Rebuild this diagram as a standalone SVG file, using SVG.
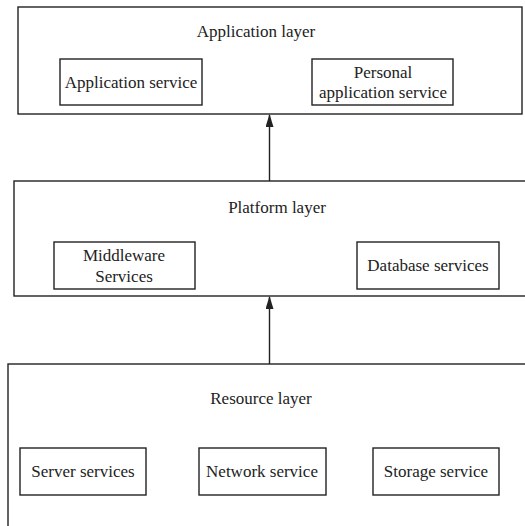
<svg xmlns="http://www.w3.org/2000/svg" width="525" height="526" viewBox="0 0 525 526">
<defs>
<style>
.box{fill:#fff;stroke:#222;stroke-width:1.4}
.t{font-family:"Liberation Serif","Times New Roman",serif;font-size:17px;fill:#222;text-anchor:middle}
.c{stroke:#222;stroke-width:1.4;fill:none}
</style>
<marker id="ah" markerWidth="13" markerHeight="8" refX="12" refY="4" orient="auto" markerUnits="userSpaceOnUse" viewBox="0 0 13 8">
<path d="M0,0 L13,4 L0,8 Z" fill="#222"/>
</marker>
</defs>
<rect width="525" height="526" fill="#fff"/>
<g id="application-layer">
<rect class="box" x="18" y="7" width="504" height="107"/>
<text class="t" x="256" y="37">Application layer</text>
</g>
<g id="application-service">
<rect class="box" x="60" y="59" width="142" height="46"/>
<text class="t" x="131" y="88">Application service</text>
</g>
<g id="personal-application-service">
<rect class="box" x="312" y="59" width="141" height="46"/>
<text class="t" x="383" y="78">Personal</text>
<text class="t" x="383" y="98">application service</text>
</g>
<g id="platform-layer">
<rect class="box" x="14" y="181" width="520" height="115"/>
<text class="t" x="277" y="213">Platform layer</text>
</g>
<g id="middleware-services">
<rect class="box" x="54" y="242" width="141" height="47"/>
<text class="t" x="124" y="261">Middleware</text>
<text class="t" x="124" y="282">Services</text>
</g>
<g id="database-services">
<rect class="box" x="357" y="242" width="142" height="47"/>
<text class="t" x="428" y="271">Database services</text>
</g>
<g id="resource-layer">
<rect class="box" x="8" y="364" width="530" height="180"/>
<text class="t" x="261" y="404">Resource layer</text>
</g>
<g id="server-services">
<rect class="box" x="20" y="448" width="126" height="47"/>
<text class="t" x="83" y="477">Server services</text>
</g>
<g id="network-service">
<rect class="box" x="199" y="448" width="127" height="47"/>
<text class="t" x="262" y="477">Network service</text>
</g>
<g id="storage-service">
<rect class="box" x="373" y="448" width="126" height="47"/>
<text class="t" x="436" y="477">Storage service</text>
</g>
<g id="connectors">
<line class="c" x1="269.5" y1="181" x2="269.5" y2="115" marker-end="url(#ah)"/>
<line class="c" x1="269.5" y1="364" x2="269.5" y2="297" marker-end="url(#ah)"/>
</g>
</svg>
